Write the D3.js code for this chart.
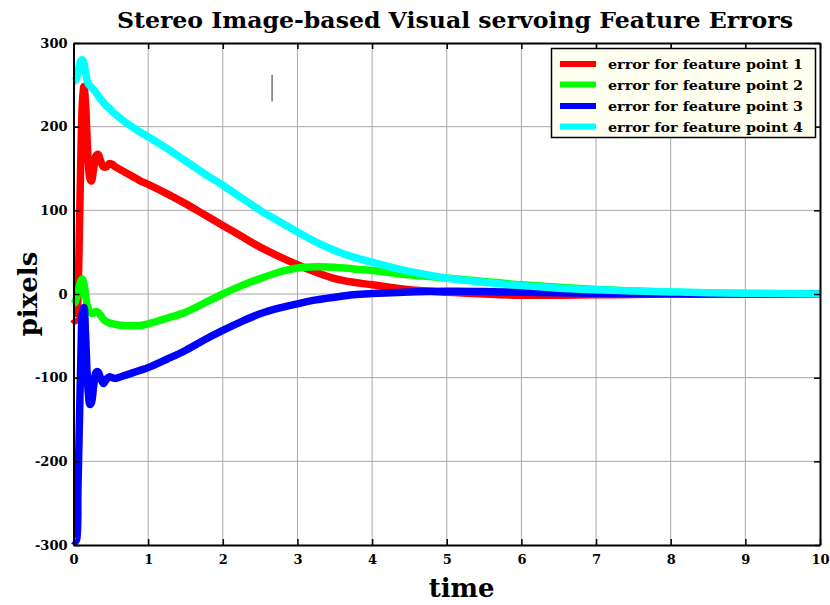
<!DOCTYPE html>
<html>
<head>
<meta charset="utf-8">
<script src="https://cdn.jsdelivr.net/npm/d3@7/dist/d3.min.js"></script>
<style>
  html, body { margin: 0; padding: 0; background: #ffffff; }
  svg { display: block; }
  text { font-family: "DejaVu Serif", "Liberation Serif", serif; }
</style>
</head>
<body>
<svg id="chart" width="830" height="605"></svg>
<script>
// ---- data ----
const times = [0, 0.02, 0.04, 0.06, 0.08, 0.10, 0.12, 0.14, 0.16, 0.18, 0.20, 0.22, 0.24, 0.27, 0.30, 0.33, 0.36, 0.40, 0.44, 0.48, 0.52, 0.56, 0.6, 0.7, 0.8, 0.9, 1.0, 1.25, 1.5, 1.75, 2.0, 2.25, 2.5, 2.75, 3.0, 3.25, 3.5, 3.75, 4.0, 4.5, 5.0, 5.5, 6.0, 6.5, 7.0, 7.5, 8.0, 8.5, 9.0, 9.5, 10];
const errPoint1 = [-30, -32, -30, 0, 80, 170, 230, 248, 230, 190, 155, 138, 135, 150, 165, 167, 160, 152, 152, 156, 155, 152, 150, 145, 140, 135, 131, 120, 108, 95, 82, 69, 56, 45, 35, 26, 18.5, 14, 11, 5, 2, 0, -1.5, -1.5, -1, -0.5, 0, 0, 0, 0, 0];
const errPoint2 = [-12, -10, -5, 2, 10, 16, 18, 12, 0, -12, -18, -21, -23, -23, -21, -22, -25, -30, -33, -34.5, -35.5, -36.3, -37, -37.8, -38, -37.6, -35.6, -29, -21.7, -11, 0, 10, 18.5, 26, 31, 32.5, 32, 30, 28, 23, 19, 15, 11, 8, 5.5, 3.5, 2, 1, 0.5, 0.3, 0];
const errPoint3 = [-295, -296, -294, -230, -150, -70, -22, -16, -45, -90, -120, -132, -130, -110, -94, -93, -100, -107, -102, -99, -100, -101, -100, -97, -94, -91, -88, -78, -67.5, -55, -43.6, -33, -23.7, -17, -11.7, -7, -3.8, -1, 0.5, 2.5, 3.3, 3, 2, 1.5, 1, 0.5, 0.3, 0, 0, 0, 0];
const errPoint4 = [254, 255, 258, 266, 274, 279, 280, 276, 266, 256, 251, 249, 247, 244, 241, 237, 233, 229, 225, 222, 218, 215, 212, 205, 199, 193, 188, 174, 159, 144, 130, 115, 100, 87, 74, 62, 52, 44, 38, 27, 19, 14, 10, 7, 5, 3.5, 2.5, 1.5, 1, 0.5, 0];
const seriesNames = ["error for feature point 1", "error for feature point 2", "error for feature point 3", "error for feature point 4"];
const seriesColors = ["#ff0000", "#00ff00", "#0000ff", "#00ffff"];
const xTicks = [0, 1, 2, 3, 4, 5, 6, 7, 8, 9, 10];
const yTicks = [-300, -200, -100, 0, 100, 200, 300];
const strayMark = { t: 2.66, y0: 230, y1: 262 };
const titleText = "Stereo Image-based Visual servoing Feature Errors";
const xLabel = "time";
const yLabel = "pixels";

// ---- layout ----
const svg = d3.select("#chart");
const pLeft = 73.5, pRight = 820, pTop = 43, pBottom = 545;
const x = d3.scaleLinear().domain([0, 10]).range([pLeft, pRight]);
const y = d3.scaleLinear().domain([-300, 300]).range([pBottom, pTop]);

// grid
const grid = svg.append("g");
grid.selectAll("line.vx").data(xTicks.slice(1, -1)).enter().append("line")
  .attr("x1", d => x(d)).attr("x2", d => x(d)).attr("y1", pTop).attr("y2", pBottom)
  .attr("stroke", "#a8a8a8").attr("stroke-width", 1);
grid.selectAll("line.hy").data(yTicks.slice(1, -1)).enter().append("line")
  .attr("x1", pLeft).attr("x2", pRight).attr("y1", d => y(d)).attr("y2", d => y(d))
  .attr("stroke", "#a8a8a8").attr("stroke-width", 1);

// series
const allSeries = [errPoint1, errPoint2, errPoint3, errPoint4];
const line = d3.line().x(d => x(d[0])).y(d => y(d[1])).curve(d3.curveCatmullRom.alpha(0.5));
const plot = svg.append("g");
allSeries.forEach((vals, i) => {
  plot.append("path")
    .datum(times.map((t, k) => [t, vals[k]]))
    .attr("d", line)
    .attr("fill", "none")
    .attr("stroke", seriesColors[i])
    .attr("stroke-width", 7.5)
    .attr("stroke-linejoin", "round");
});

// stray mark
svg.append("line")
  .attr("x1", x(strayMark.t)).attr("x2", x(strayMark.t))
  .attr("y1", y(strayMark.y0)).attr("y2", y(strayMark.y1))
  .attr("stroke", "#333").attr("stroke-width", 1);

// axes (ticks inward on all sides)
const fontTick = "bold 13px 'DejaVu Serif', serif";
const fmt = d => String(d);
const axB = svg.append("g").attr("transform", `translate(0,${pBottom})`)
  .call(d3.axisBottom(x).tickValues(xTicks).tickFormat(fmt).tickSizeInner(-6).tickSizeOuter(0).tickPadding(10));
const axT = svg.append("g").attr("transform", `translate(0,${pTop})`)
  .call(d3.axisTop(x).tickValues(xTicks).tickSizeInner(-6).tickSizeOuter(0).tickFormat(""));
const axL = svg.append("g").attr("transform", `translate(${pLeft},0)`)
  .call(d3.axisLeft(y).tickValues(yTicks).tickFormat(fmt).tickSizeInner(-6).tickSizeOuter(0).tickPadding(6));
const axR = svg.append("g").attr("transform", `translate(${pRight},0)`)
  .call(d3.axisRight(y).tickValues(yTicks).tickSizeInner(-6).tickSizeOuter(0).tickFormat(""));
[axB, axT, axL, axR].forEach(a => {
  a.select(".domain").attr("stroke", "#000").attr("stroke-width", 2);
  a.selectAll(".tick line").attr("stroke", "#000").attr("stroke-width", 1.5);
  a.selectAll("text").style("font", fontTick).attr("fill", "#000");
});

// title and labels
svg.append("text").attr("x", 117).attr("y", 28)
  .attr("textLength", 676).attr("lengthAdjust", "spacingAndGlyphs")
  .style("font", "bold 22px 'DejaVu Serif', serif").text(titleText);
svg.append("text").attr("x", x(5.2)).attr("y", 597).attr("text-anchor", "middle")
  .style("font", "bold 26px 'DejaVu Serif', serif").text(xLabel);
svg.append("text").attr("transform", `translate(37,${y(0)}) rotate(-90)`).attr("text-anchor", "middle")
  .style("font", "bold 26px 'DejaVu Serif', serif").text(yLabel);

// legend
const lg = svg.append("g");
lg.append("rect").attr("x", 551.5).attr("y", 48.5).attr("width", 264).attr("height", 89)
  .attr("fill", "#fffff0").attr("stroke", "#000").attr("stroke-width", 1.5);
const rowY = [64, 84.5, 106, 126.5];
seriesNames.forEach((name, i) => {
  lg.append("line").attr("x1", 560).attr("x2", 596).attr("y1", rowY[i]).attr("y2", rowY[i])
    .attr("stroke", seriesColors[i]).attr("stroke-width", 6);
  lg.append("text").attr("x", 608).attr("y", rowY[i] + 5)
    .attr("textLength", 195).attr("lengthAdjust", "spacingAndGlyphs")
    .style("font", "bold 13.5px 'DejaVu Serif', serif").text(name);
});
</script>
</body>
</html>
